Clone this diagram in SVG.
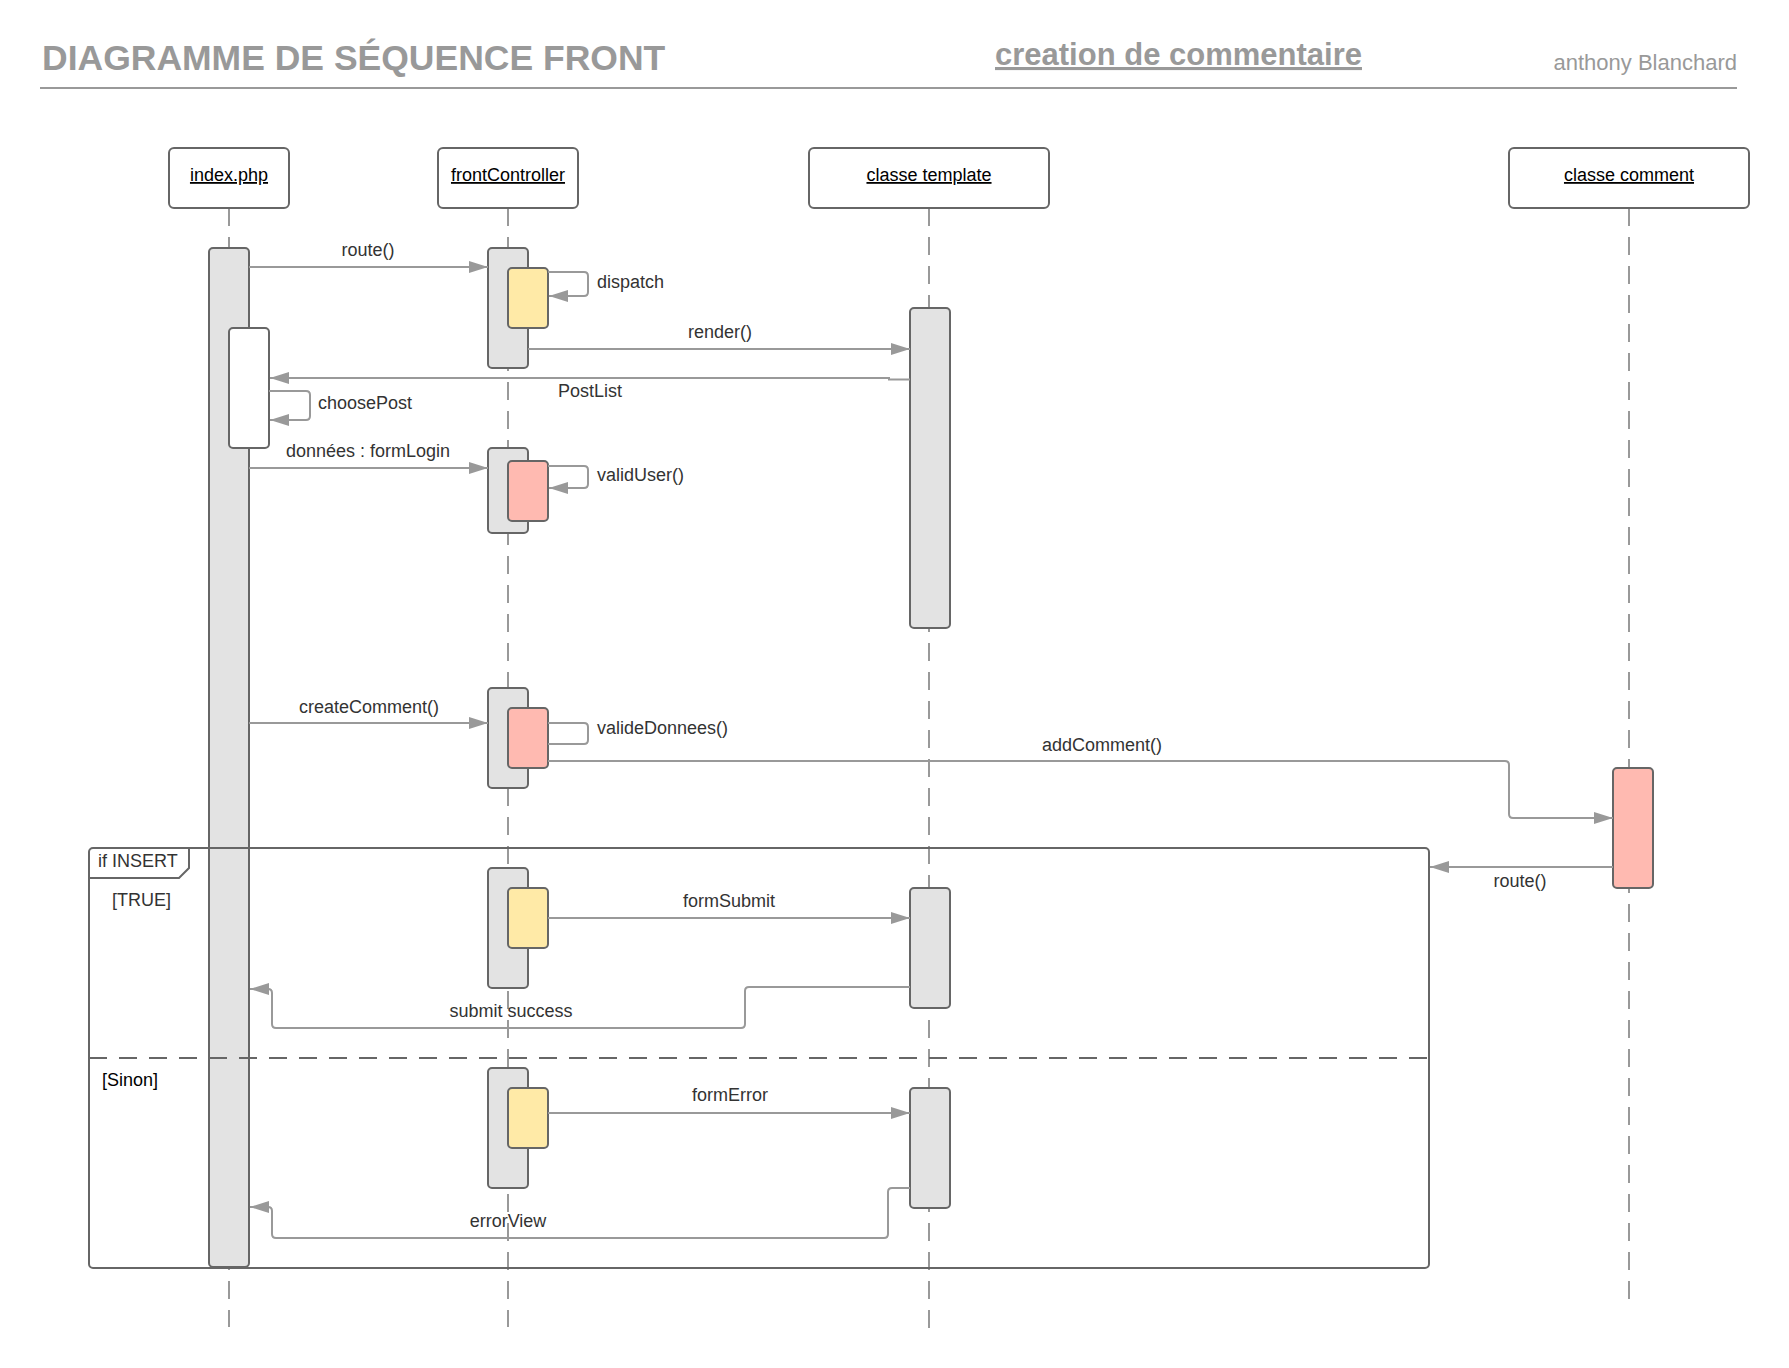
<svg xmlns="http://www.w3.org/2000/svg" width="1789" height="1368" viewBox="0 0 1789 1368">
  <style>
    text { font-family: "Liberation Sans", Arial, sans-serif; }
    .lbl { font-size: 18px; fill: #333; }
    .mid { text-anchor: middle; }
    .head { fill: #fff; stroke: #666; stroke-width: 2; }
    .headtxt { font-size: 18px; fill: #000; text-anchor: middle; text-decoration: underline; }
    .life { stroke: #999; stroke-width: 2; stroke-dasharray: 18 11; fill: none; }
    .bar { fill: #e3e3e3; stroke: #666; stroke-width: 2; }
    .bar-w { fill: #fff; stroke: #666; stroke-width: 2; }
    .bar-y { fill: #ffeaa7; stroke: #666; stroke-width: 2; }
    .bar-r { fill: #ffbab1; stroke: #666; stroke-width: 2; }
    .msg { fill: none; stroke: #999; stroke-width: 2; }
    .arr { marker-end: url(#head); }
    .frame { fill: none; stroke: #666; stroke-width: 2; }
  </style>
  <defs>
    <marker id="head" markerUnits="userSpaceOnUse" markerWidth="19" markerHeight="12" refX="19" refY="6" orient="auto">
      <path d="M0,0 L19,6 L0,12 z" fill="#999"/>
    </marker>
  </defs>

  <rect x="0" y="0" width="1789" height="1368" fill="#fff"/>

  <!-- page header -->
  <g id="header">
    <text x="42" y="70" font-size="35.5" font-weight="bold" fill="#999">DIAGRAMME DE SÉQUENCE FRONT</text>
    <text x="995" y="65" font-size="31" font-weight="bold" fill="#999" text-decoration="underline">creation de commentaire</text>
    <text x="1737" y="70" font-size="22" fill="#999" text-anchor="end">anthony Blanchard</text>
    <line x1="40" y1="88" x2="1737" y2="88" stroke="#999" stroke-width="2"/>
  </g>

  <!-- lifelines -->
  <g id="lifelines">
    <line class="life" x1="229" y1="208" x2="229" y2="1327"/>
    <line class="life" x1="508" y1="208" x2="508" y2="1327"/>
    <line class="life" x1="929" y1="208" x2="929" y2="1328"/>
    <line class="life" x1="1629" y1="208" x2="1629" y2="1309"/>
  </g>

  <!-- participants -->
  <g id="index-php">
    <rect class="head" x="169" y="148" width="120" height="60" rx="5"/>
    <text class="headtxt" x="229" y="181">index.php</text>
    <rect class="bar" x="209" y="248" width="40" height="1019" rx="4"/>
    <rect class="bar-w" x="229" y="328" width="40" height="120" rx="4"/>
  </g>

  <g id="front-controller">
    <rect class="head" x="438" y="148" width="140" height="60" rx="5"/>
    <text class="headtxt" x="508" y="181">frontController</text>
    <rect class="bar" x="488" y="248" width="40" height="120" rx="4"/>
    <rect class="bar-y" x="508" y="268" width="40" height="60" rx="4"/>
    <rect class="bar" x="488" y="448" width="40" height="85" rx="4"/>
    <rect class="bar-r" x="508" y="461" width="40" height="60" rx="4"/>
    <rect class="bar" x="488" y="688" width="40" height="100" rx="4"/>
    <rect class="bar-r" x="508" y="708" width="40" height="60" rx="4"/>
    <rect class="bar" x="488" y="868" width="40" height="120" rx="4"/>
    <rect class="bar-y" x="508" y="888" width="40" height="60" rx="4"/>
    <rect class="bar" x="488" y="1068" width="40" height="120" rx="4"/>
    <rect class="bar-y" x="508" y="1088" width="40" height="60" rx="4"/>
  </g>

  <g id="classe-template">
    <rect class="head" x="809" y="148" width="240" height="60" rx="5"/>
    <text class="headtxt" x="929" y="181">classe template</text>
    <rect class="bar" x="910" y="308" width="40" height="320" rx="4"/>
    <rect class="bar" x="910" y="888" width="40" height="120" rx="4"/>
    <rect class="bar" x="910" y="1088" width="40" height="120" rx="4"/>
  </g>

  <g id="classe-comment">
    <rect class="head" x="1509" y="148" width="240" height="60" rx="5"/>
    <text class="headtxt" x="1629" y="181">classe comment</text>
    <rect class="bar-r" x="1613" y="768" width="40" height="120" rx="4"/>
  </g>

  <!-- combined fragment -->
  <g id="fragment-if-insert">
    <rect class="frame" x="89" y="848" width="1340" height="420" rx="4"/>
    <path class="frame" d="M89,878 H179 L189,868 V848"/>
    <line x1="89" y1="1058" x2="1429" y2="1058" stroke="#666" stroke-width="2" stroke-dasharray="18 12"/>
    <text class="lbl" x="98" y="867">if INSERT</text>
    <text class="lbl" x="112" y="906">[TRUE]</text>
    <text class="lbl" x="102" y="1086" style="fill:#000">[Sinon]</text>
  </g>

  <!-- messages -->
  <g id="connectors">
    <line class="msg arr" x1="249" y1="267" x2="488" y2="267"/>
    <text class="lbl mid" x="368" y="256">route()</text>

    <path class="msg arr" d="M548,272 H584 q4,0 4,4 V292 q0,4 -4,4 H549"/>
    <text class="lbl" x="597" y="288">dispatch</text>

    <line class="msg arr" x1="528" y1="349" x2="910" y2="349"/>
    <text class="lbl mid" x="720" y="338">render()</text>

    <path class="msg arr" d="M910,379.5 H889 V378 H270"/>
    <text class="lbl mid" x="590" y="397">PostList</text>

    <path class="msg arr" d="M269,391 H306 q4,0 4,4 V416 q0,4 -4,4 H270"/>
    <text class="lbl" x="318" y="409">choosePost</text>

    <line class="msg arr" x1="249" y1="468" x2="488" y2="468"/>
    <text class="lbl mid" x="368" y="457">données : formLogin</text>

    <path class="msg arr" d="M548,466 H584 q4,0 4,4 V484 q0,4 -4,4 H549"/>
    <text class="lbl" x="597" y="481">validUser()</text>

    <line class="msg arr" x1="249" y1="723" x2="488" y2="723"/>
    <text class="lbl mid" x="369" y="713">createComment()</text>

    <path class="msg" d="M548,723 H584 q4,0 4,4 V740 q0,4 -4,4 H548"/>
    <text class="lbl" x="597" y="734">valideDonnees()</text>

    <path class="msg arr" d="M548,761 H1505 q4,0 4,4 V814 q0,4 4,4 H1613"/>
    <text class="lbl mid" x="1102" y="751">addComment()</text>

    <line class="msg arr" x1="1613" y1="867" x2="1430" y2="867"/>
    <text class="lbl mid" x="1520" y="887">route()</text>

    <line class="msg arr" x1="548" y1="918" x2="910" y2="918"/>
    <text class="lbl mid" x="729" y="907">formSubmit</text>

    <path class="msg arr" d="M910,987 H749 q-4,0 -4,4 V1024 q0,4 -4,4 H276 q-4,0 -4,-4 V993 q0,-4 -4,-4 H250"/>
    <text class="lbl mid" x="511" y="1017">submit success</text>

    <line class="msg arr" x1="548" y1="1113" x2="910" y2="1113"/>
    <text class="lbl mid" x="730" y="1101">formError</text>

    <path class="msg arr" d="M910,1188 H892 q-4,0 -4,4 V1234 q0,4 -4,4 H276 q-4,0 -4,-4 V1211 q0,-4 -4,-4 H250"/>
    <text class="lbl mid" x="508" y="1227">errorView</text>
  </g>
</svg>
